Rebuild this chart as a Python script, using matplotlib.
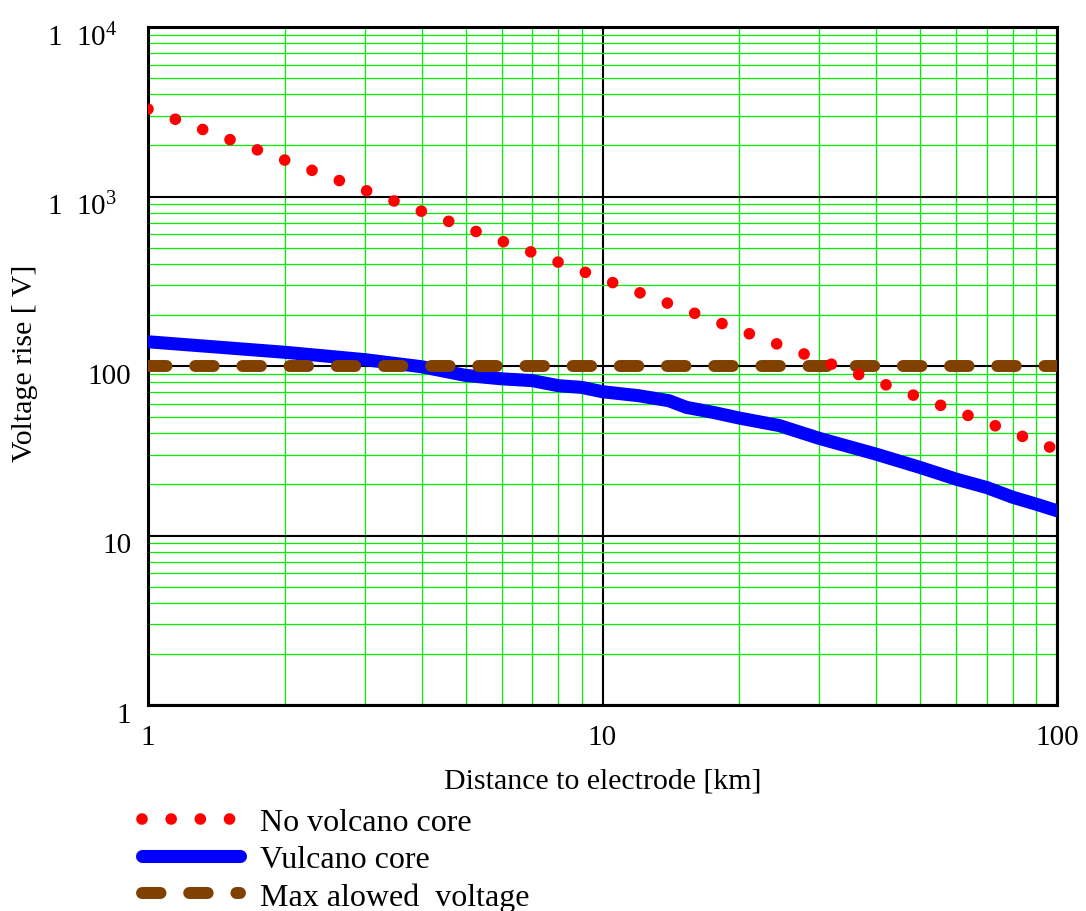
import numpy as np
import matplotlib
matplotlib.use("Agg")
import matplotlib.pyplot as plt
import matplotlib.transforms as mtrans
from matplotlib.ticker import FixedLocator, FixedFormatter, LogLocator, NullFormatter

plt.rcParams['font.family'] = ['Liberation Serif', 'DejaVu Serif']
plt.rcParams['mathtext.fontset'] = 'custom'
plt.rcParams['mathtext.rm'] = 'Liberation Serif'
plt.rcParams['mathtext.it'] = 'Liberation Serif'

# values
d_red = [1, 2, 3, 5, 7, 10, 20, 30, 50, 70, 100]
v_red = [3280, 1640, 1090, 655, 468, 327, 163, 109, 65, 46.5, 32]

d_blue = [1, 2, 3, 4, 5, 6, 7, 8, 9, 10, 12, 14, 15.3, 17.5, 20, 24.5, 30,
          40, 50, 60, 70, 80, 90, 100]
v_blue = [139, 120.5, 109, 99, 88, 84, 82, 76.5, 74.8, 70.5, 66.8, 62.4, 57,
          53.3, 49.3, 44.5, 37.4, 30.2, 25.2, 21.5, 19.2, 16.8, 15.3, 14.0]

d_max = [1, 100]
v_max = [100, 100]

yticks = [1, 10, 100, 1000, 10000]
ylabels = ['1', '10', '100', r'1  10$^{3}$', r'1  10$^{4}$']
xticks = [1, 10, 100]
xlabels = ['1', '10', '100']

fig = plt.figure(figsize=(10.86, 9.12), dpi=100)
ax = fig.add_axes([148/1086, 1-706/912, (1057-148)/1086, (706-28)/912])

ax.set_xscale('log')
ax.set_yscale('log')
ax.set_xlim(1, 100)
ax.set_ylim(1, 10000)

ax.xaxis.set_minor_locator(LogLocator(base=10, subs=np.arange(2, 10)))
ax.yaxis.set_minor_locator(LogLocator(base=10, subs=np.arange(2, 10)))
ax.xaxis.set_minor_formatter(NullFormatter())
ax.yaxis.set_minor_formatter(NullFormatter())
ax.xaxis.set_major_locator(FixedLocator(xticks))
ax.xaxis.set_major_formatter(FixedFormatter(xlabels))
ax.yaxis.set_major_locator(FixedLocator(yticks))
ax.yaxis.set_major_formatter(FixedFormatter(ylabels))

ax.grid(which='minor', color='#00ee00', lw=0.9)
ax.grid(which='major', color='black', lw=1.5)
ax.set_axisbelow(True)
ax.tick_params(which='both', length=0, labelsize=21)
ax.tick_params(axis='x', pad=14)
ax.tick_params(axis='y', pad=12)
for s in ax.spines.values():
    s.set_linewidth(2.2)

# y tick labels sit a little below their gridline in the original,
# the ones with an exponent also a bit further left
for t, lab in zip(ax.get_yticklabels(), ylabels):
    dx = -0.14 if '^' in lab else 0
    shift = mtrans.ScaledTranslation(dx, -5/72, fig.dpi_scale_trans)
    t.set_transform(t.get_transform() + shift)

ax.plot(d_blue, v_blue, color='#0000ff', lw=9.4, solid_capstyle='round',
        label='Vulcano core', zorder=3)
ax.plot(d_max, v_max, color='#804000', lw=8.6, dashes=(1.55, 2.4),
        dash_capstyle='round', label='Max alowed  voltage', zorder=4)
ax.plot(d_red, v_red, color='#ff0000', lw=8.4, dashes=(0.001, 2.5),
        dash_capstyle='round', label='No volcano core', zorder=5)

ax.set_xlabel('Distance to electrode [km]', fontsize=21.5, labelpad=12)
ax.set_ylabel('Voltage rise [ V]', fontsize=21.5)
ax.yaxis.set_label_coords(-0.121, 0.505)

h, l = ax.get_legend_handles_labels()
order = [2, 0, 1]
ax.legend([h[i] for i in order], [l[i] for i in order],
          loc='upper left', bbox_to_anchor=(142/1086, 1-809/912),
          bbox_transform=fig.transFigure, frameon=False, fontsize=23,
          handlelength=3.07, handletextpad=0.63, labelspacing=0.24,
          borderpad=0, borderaxespad=0)

fig.savefig('out.png', dpi=100)
